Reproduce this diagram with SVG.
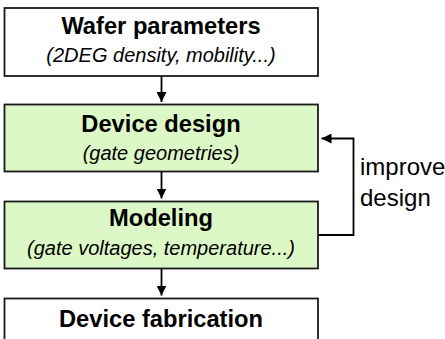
<svg xmlns="http://www.w3.org/2000/svg" width="445" height="339" viewBox="0 0 445 339">
<style>
.box{stroke:#1a1a1a;stroke-width:1.8}
.white{fill:#ffffff}
.green{fill:#dcf8c6}
.title{font-family:"Liberation Sans",Arial,sans-serif;font-weight:bold;font-size:23.7px;fill:#000;text-anchor:middle}
.sub{font-family:"Liberation Sans",Arial,sans-serif;font-style:italic;font-size:20px;fill:#000;text-anchor:middle}
.lbl{font-family:"Liberation Sans",Arial,sans-serif;font-size:24px;fill:#000}
.conn{fill:none;stroke:#000;stroke-width:1.8}
</style>
<defs>
<marker id="ah" viewBox="0 0 10 10" refX="10" refY="5" markerWidth="10" markerHeight="10" markerUnits="userSpaceOnUse" orient="auto">
<path d="M0,0 L10,5 L0,10 Z" fill="#000"/>
</marker>
</defs>
<g id="wafer">
<rect class="box white" x="4.5" y="8" width="313.5" height="68"/>
<text class="title" x="161" y="33.5">Wafer parameters</text>
<text class="sub" x="161" y="61.5">(2DEG density, mobility...)</text>
</g>
<g id="design">
<rect class="box green" x="4.5" y="104.5" width="313.5" height="67"/>
<text class="title" x="161" y="131.5">Device design</text>
<text class="sub" x="161" y="160">(gate geometries)</text>
</g>
<g id="modeling">
<rect class="box green" x="4.5" y="201.5" width="313.5" height="67"/>
<text class="title" x="161" y="226">Modeling</text>
<text class="sub" x="161" y="255">(gate voltages, temperature...)</text>
</g>
<g id="fabrication">
<rect class="box white" x="4.5" y="298.5" width="313.5" height="70"/>
<text class="title" x="161" y="327">Device fabrication</text>
</g>
<g id="connectors">
<line class="conn" x1="161.5" y1="76" x2="161.5" y2="102" marker-end="url(#ah)"/>
<line class="conn" x1="161.5" y1="171.5" x2="161.5" y2="198.5" marker-end="url(#ah)"/>
<line class="conn" x1="161.5" y1="268.5" x2="161.5" y2="295.5" marker-end="url(#ah)"/>
<polyline class="conn" points="318,235 353.5,235 353.5,138.5 321.5,138.5" marker-end="url(#ah)"/>
<text class="lbl" x="360" y="175">improve</text>
<text class="lbl" x="360" y="205.5">design</text>
</g>
</svg>
